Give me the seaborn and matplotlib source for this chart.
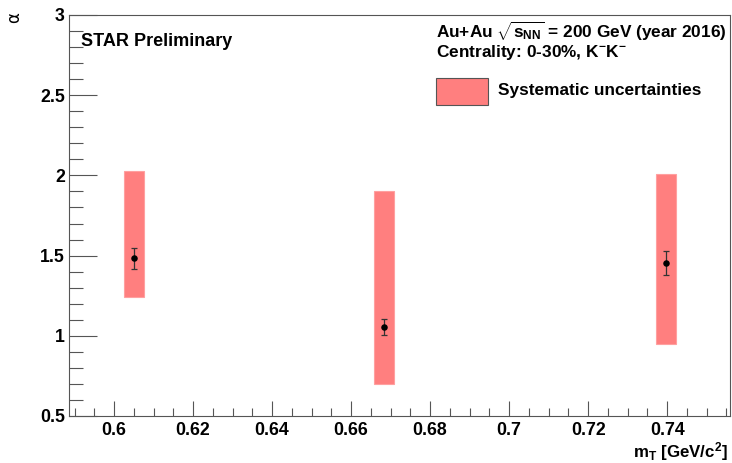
import numpy as np
import pandas as pd
import matplotlib
matplotlib.use("Agg")
import matplotlib.pyplot as plt
from matplotlib.ticker import MultipleLocator
from matplotlib.patches import Rectangle
from matplotlib import font_manager
import seaborn as sns

# measured points
mt = [0.6051, 0.6684, 0.7397]
alpha = [1.483, 1.056, 1.456]
stat_err = [0.065, 0.05, 0.075]
# systematic boxes (low, high)
sys_low = [1.24, 0.70, 0.95]
sys_high = [2.025, 1.902, 2.01]

df = pd.DataFrame({"mt": mt, "alpha": alpha, "err": stat_err,
                   "lo": sys_low, "hi": sys_high})

sns.set_theme(style="white")
plt.rcParams['font.family'] = ['Liberation Sans', 'DejaVu Sans']
plt.rcParams['font.weight'] = 'bold'
plt.rcParams['mathtext.fontset'] = 'custom'
plt.rcParams['mathtext.rm'] = 'Liberation Sans:bold'
plt.rcParams['mathtext.it'] = 'Liberation Sans:bold'
plt.rcParams['mathtext.bf'] = 'Liberation Sans:bold'
plt.rcParams['text.color'] = 'black'
plt.rcParams['xtick.color'] = '#555555'
plt.rcParams['ytick.color'] = '#555555'
plt.rcParams['xtick.labelcolor'] = 'black'
plt.rcParams['ytick.labelcolor'] = 'black'

tick_font = font_manager.FontProperties(family="Liberation Sans", weight="bold", size=12.8)
xlab_font = font_manager.FontProperties(family="Liberation Sans", weight="bold", size=12.2)
star_font = font_manager.FontProperties(family="Liberation Sans", weight="bold", size=13)
info_font = font_manager.FontProperties(family="Liberation Sans", weight="bold", size=12.4)

fig = plt.figure(figsize=(7.32, 4.63), dpi=100)
ax = fig.add_axes([69/732, 47/463, 661/732, 401/463])

box_w = 0.005
ax.bar(df["mt"], df["hi"] - df["lo"], bottom=df["lo"], width=box_w,
       color="#ff7f7f", edgecolor="#ffa0a0", linewidth=0.8, zorder=1)
ax.errorbar(df["mt"], df["alpha"], yerr=df["err"], fmt="none",
            ecolor="#333333", elinewidth=0.9, capsize=2, capthick=0.9, zorder=2)
sns.scatterplot(data=df, x="mt", y="alpha", ax=ax, color="black", s=22,
                edgecolor="black", linewidth=0, zorder=3, legend=False)

ax.set_xlim(0.5886, 0.7559)
ax.set_ylim(0.5, 3.0)
ax.xaxis.set_minor_locator(MultipleLocator(0.005))
ax.yaxis.set_minor_locator(MultipleLocator(0.1))
ax.set_xticks([0.6, 0.62, 0.64, 0.66, 0.68, 0.7, 0.72, 0.74])
ax.set_xticklabels(["0.6", "0.62", "0.64", "0.66", "0.68", "0.7", "0.72", "0.74"])
ax.set_yticks([0.5, 1, 1.5, 2, 2.5, 3])
ax.set_yticklabels(["0.5", "1", "1.5", "2", "2.5", "3"])

ax.tick_params(axis="x", which="major", direction="in", length=11, width=0.8,
               color="#555555", pad=4, bottom=True, top=False)
ax.tick_params(axis="x", which="minor", direction="in", length=5.5, width=0.8,
               color="#555555", bottom=True, top=False)
ax.tick_params(axis="y", which="major", direction="in", length=20, width=0.8,
               color="#555555", pad=3, left=True, right=False)
ax.tick_params(axis="y", which="minor", direction="in", length=10, width=0.8,
               color="#555555", left=True, right=False)
for lab in ax.get_xticklabels() + ax.get_yticklabels():
    lab.set_fontproperties(tick_font)
    lab.set_color("black")
for sp in ax.spines.values():
    sp.set_color("#555555")
    sp.set_linewidth(0.8)

ax.set_xlabel("")
ax.set_ylabel("")
fig.text(728/732, 1 - 452/463, r"m$_\mathregular{T}$ [GeV/c$^\mathregular{2}$]",
         ha="right", va="center", fontproperties=xlab_font)
fig.text(14/732, 1 - 18/463, "\u03b1", ha="center", va="center",
         fontsize=12, rotation=90, family="DejaVu Sans", weight="normal")

fig.text(81/732, 1 - 42/463, "STAR Preliminary", ha="left", va="center",
         fontproperties=star_font)
fig.text(436/732, 1 - 31/463,
         r"Au+Au $\sqrt{\mathregular{s_{NN}}}$ = 200 GeV (year 2016)",
         ha="left", va="center", fontproperties=info_font)
fig.text(436/732, 1 - 52/463, r"Centrality: 0-30%, K$^\mathregular{-}$K$^\mathregular{-}$",
         ha="left", va="center", fontproperties=info_font)
fig.patches.append(Rectangle((436/732, 1 - 105/463), 52/732, 27/463,
                             transform=fig.transFigure, facecolor="#ff7f7f",
                             edgecolor="#555555", linewidth=0.8))
fig.text(498/732, 1 - 91/463, "Systematic uncertainties", ha="left",
         va="center", fontproperties=info_font)

fig.savefig("out.png", dpi=100)
